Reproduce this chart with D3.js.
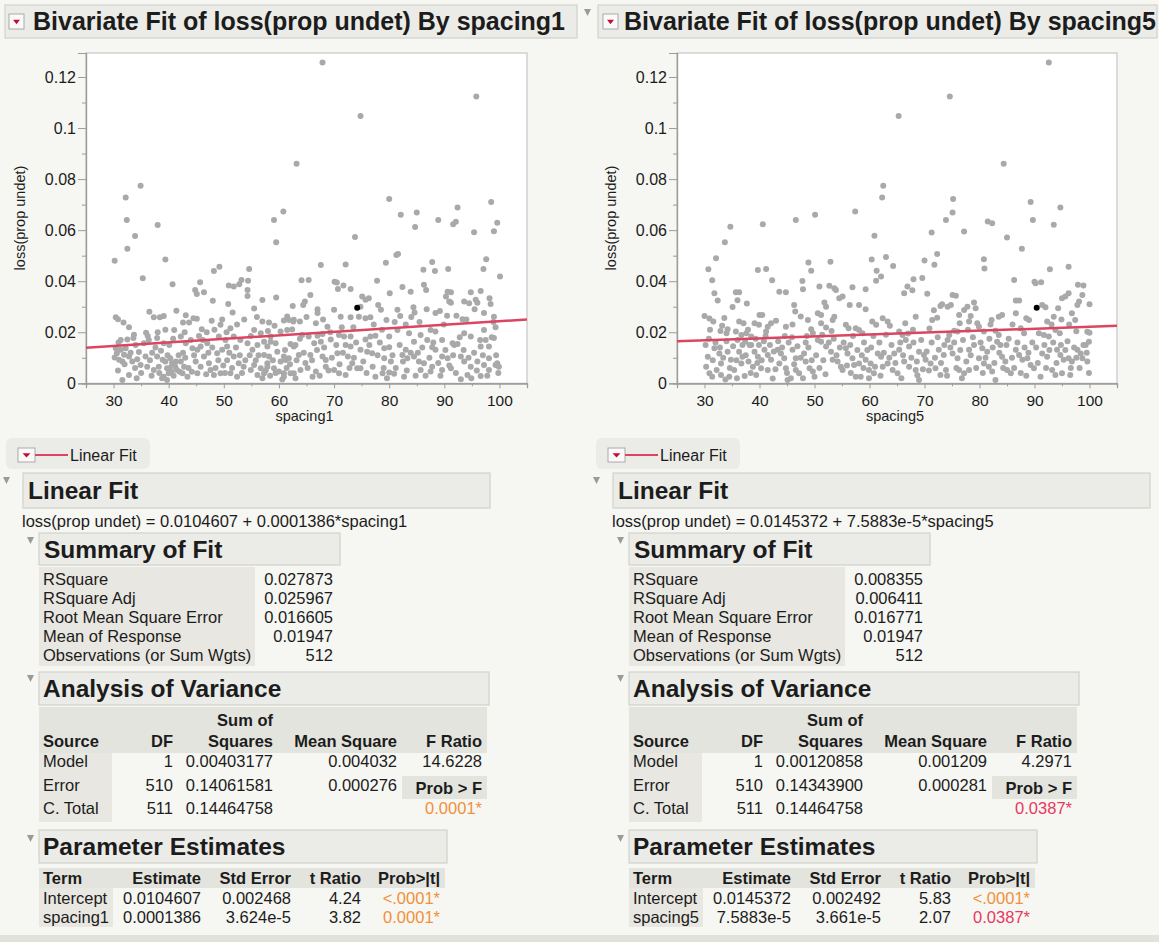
<!DOCTYPE html>
<html>
<head>
<meta charset="utf-8">
<script src="https://cdn.jsdelivr.net/npm/d3@7"></script>
<style>
  body { margin: 0; background: #f6f6f2; }
  svg text { font-family: "Liberation Sans", Arial, Helvetica, sans-serif; fill: #1c1c1c; }
</style>
</head>
<body>
<svg id="chart" width="1159" height="942"></svg>
<script>
// ---------- data ----------
const xTicks = [30, 40, 50, 60, 70, 80, 90, 100];
const xMinorTicks = [25, 35, 45, 55, 65, 75, 85, 95, 105];
const yTicks = [0, 0.02, 0.04, 0.06, 0.08, 0.1, 0.12];
const yTickLabels = ["0", "0.02", "0.04", "0.06", "0.08", "0.1", "0.12"];
const yMinorTicks = [0.01, 0.03, 0.05, 0.07, 0.09, 0.11];

// loss(prop undet) against spacing1
const spacing1Points = [
  [32.2,0.0728],[34.9,0.0774],[32.4,0.0640],[33.9,0.0577],[38.0,0.0620],[63.2,0.0860],[59.1,0.0640],[60.8,0.0673],
  [67.9,0.1257],[95.8,0.1124],[74.8,0.1047],[80.0,0.0722],[82.1,0.0660],[85.0,0.0669],[84.7,0.0612],[88.9,0.0640],
  [92.4,0.0689],[91.6,0.0623],[92.1,0.0633],[98.5,0.0710],[99.6,0.0629],[95.4,0.0592],[99.0,0.0596],[73.8,0.0573],
  [30.2,0.0480],[32.5,0.0527],[35.3,0.0412],[39.4,0.0485],[40.7,0.0388],[59.5,0.0553],[48.2,0.0440],[49.2,0.0457],
  [54.6,0.0448],[54.4,0.0402],[54.3,0.0366],[54.3,0.0342],[45.7,0.0396],[46.4,0.0357],[44.8,0.0366],[45.1,0.0350],
  [50.9,0.0383],[51.8,0.0379],[52.8,0.0388],[53.2,0.0405],[50.8,0.0311],[48.0,0.0323],[51.6,0.0277],[55.5,0.0293],
  [59.5,0.0336],[62.5,0.0303],[36.5,0.0280],[37.3,0.0259],[38.4,0.0259],[39.1,0.0264],[30.4,0.0259],[30.8,0.0251],
  [31.8,0.0238],[32.8,0.0220],[41.4,0.0284],[43.1,0.0267],[42.6,0.0238],[43.7,0.0238],[44.5,0.0255],[45.1,0.0253],
  [46.0,0.0212],[35.9,0.0198],
  [33.7,0.0190],[33.6,0.0177],[31.3,0.0170],[30.4,0.0137],[31.3,0.0131],[32.2,0.0137],[32.8,0.0105],[30.2,0.0101],
  [31.0,0.0092],[31.6,0.0085],[33.4,0.0085],[34.3,0.0094],[34.9,0.0072],[35.5,0.0157],[36.4,0.0170],[37.9,0.0177],
  [39.1,0.0157],[37.0,0.0120],[37.9,0.0105],[36.1,0.0065],[37.3,0.0052],[38.2,0.0065],[39.4,0.0085],[39.7,0.0059],
  [40.0,0.0039],[40.3,0.0098],[40.6,0.0079],[41.2,0.0065],[41.5,0.0052],[42.2,0.0085],[42.8,0.0065],[42.5,0.0039],
  [43.4,0.0026],[39.1,0.0026],[39.7,0.0013],[31.6,0.0013],[32.8,0.0033],[41.0,0.0209],[42.2,0.0183],[43.1,0.0157],
  [44.0,0.0170],[44.3,0.0137],[45.2,0.0131],[45.8,0.0144],[47.0,0.0157],[44.9,0.0085],[45.8,0.0065],[45.2,0.0039],
  [46.4,0.0105],[47.3,0.0079],[47.6,0.0052],[48.2,0.0033],[49.4,0.0039],[48.8,0.0118],[49.7,0.0131],[50.6,0.0144],
  [49.1,0.0183],[50.3,0.0170],[49.4,0.0229],[51.2,0.0216],[51.8,0.0183],[53.0,0.0170],[51.8,0.0105],[52.7,0.0079],
  [53.6,0.0065],[51.2,0.0039],[52.4,0.0026],[54.3,0.0157],[55.2,0.0131],[55.5,0.0209],[56.7,0.0196],[54.9,0.0052],
  [56.1,0.0033],[57.3,0.0039],[57.9,0.0079],[59.1,0.0059],[60.3,0.0085],[57.9,0.0144],[59.7,0.0124],[60.9,0.0105],
  [58.5,0.0183],[60.3,0.0203],[61.5,0.0262],[62.7,0.0249],[60.9,0.0026],[62.1,0.0039],[62.7,0.0144],[63.6,0.0111],
  [81.3,0.0503],[81.6,0.0507],[79.4,0.0472],[67.6,0.0463],[72.1,0.0465],[87.8,0.0475],[97.6,0.0486],[86.2,0.0445],
  [88.3,0.0440],[90.7,0.0448],[97.1,0.0448],[100.1,0.0418],[64.1,0.0404],[65.4,0.0405],[70.1,0.0398],[70.5,0.0395],
  [77.8,0.0402],[71.7,0.0383],[73.0,0.0369],[70.7,0.0369],[86.3,0.0386],[82.4,0.0377],[83.9,0.0359],[80.1,0.0353],
  [86.7,0.0366],[90.6,0.0359],[91.2,0.0357],[94.8,0.0357],[96.6,0.0362],[98.2,0.0333],[90.3,0.0340],[90.9,0.0320],
  [91.2,0.0316],[93.6,0.0320],[94.5,0.0314],[95.7,0.0327],[96.0,0.0316],[98.4,0.0311],[57.0,0.0326],[64.7,0.0320],
  [64.4,0.0307],[65.7,0.0346],[67.0,0.0290],[67.0,0.0275],[70.0,0.0288],[66.7,0.0235],[75.1,0.0340],[75.7,0.0327],
  [76.3,0.0333],[74.8,0.0300],[75.7,0.0255],[76.6,0.0259],[74.5,0.0261],[78.0,0.0307],[78.5,0.0288],[81.5,0.0288],
  [82.0,0.0264],[79.5,0.0248],[84.4,0.0298],[84.6,0.0277],[86.8,0.0290],[88.4,0.0275],[89.2,0.0283],[92.2,0.0265],
  [93.3,0.0251],[97.2,0.0275],[99.0,0.0261],[61.8,0.0248],[62.6,0.0242],[60.9,0.0246],[57.0,0.0242],[58.2,0.0238],
  [63.8,0.0242],[71.2,0.0261],[73.0,0.0259],[68.8,0.0222],[61.5,0.0209],[62.4,0.0211],[64.2,0.0189],[65.4,0.0183],
  [67.0,0.0186],[67.9,0.0193],[70.9,0.0189],[71.8,0.0183],[73.0,0.0183],[75.7,0.0172],[76.6,0.0183],[77.5,0.0186],
  [80.0,0.0183],[81.5,0.0209],[83.6,0.0196],[85.7,0.0189],[87.5,0.0209],[88.4,0.0203],[89.6,0.0170],[91.5,0.0157],
  [93.6,0.0196],[94.8,0.0183],[97.2,0.0209],[99.3,0.0220],[97.5,0.0170],[99.0,0.0177],[56.1,0.0150],[57.3,0.0163],
  [58.5,0.0163],[59.4,0.0157],[62.1,0.0154],[63.0,0.0150],[66.4,0.0157],[67.6,0.0163],[69.4,0.0172],[72.1,0.0150],
  [73.0,0.0144],[74.8,0.0131],[79.1,0.0137],[80.0,0.0141],[83.0,0.0131],[84.5,0.0163],[86.9,0.0170],[87.8,0.0141],
  [88.4,0.0131],[91.8,0.0150],[92.4,0.0154],[96.6,0.0144],[98.1,0.0144],[57.3,0.0111],[58.2,0.0105],[61.2,0.0091],
  [61.8,0.0098],[64.5,0.0120],[65.7,0.0111],[67.9,0.0105],[68.5,0.0091],[70.6,0.0118],[72.5,0.0105],[73.3,0.0079],
  [74.8,0.0059],[76.0,0.0124],[76.9,0.0118],[79.1,0.0098],[80.3,0.0085],[82.4,0.0111],[83.3,0.0098],[84.5,0.0105],
  [85.4,0.0085],[86.3,0.0079],[87.8,0.0065],[89.6,0.0105],[90.6,0.0098],[93.0,0.0105],[93.6,0.0085],[94.8,0.0065],
  [96.0,0.0085],[97.2,0.0072],[98.1,0.0098],[99.6,0.0079],[99.9,0.0065],[55.5,0.0072],[56.7,0.0059],[57.9,0.0065],
  [60.0,0.0046],[60.9,0.0039],[62.7,0.0039],[63.9,0.0052],[66.1,0.0026],[66.7,0.0046],[68.5,0.0065],[70.0,0.0052],
  [70.9,0.0039],[72.1,0.0033],[74.2,0.0059],[77.5,0.0026],[78.8,0.0039],[80.0,0.0042],[80.9,0.0037],[82.7,0.0026],
  [85.7,0.0052],[87.5,0.0046],[89.6,0.0052],[91.2,0.0059],[93.0,0.0016],[94.2,0.0033],[96.6,0.0029],[98.1,0.0052],
  [99.3,0.0072],
  [30.6,0.0118],[31.9,0.0112],[33.1,0.0120],[34.0,0.0150],[34.6,0.0123],[30.9,0.0160],[32.5,0.0172],[33.9,0.0060],
  [35.0,0.0040],[34.2,0.0020],[30.8,0.0050],[32.0,0.0075],[35.8,0.0105],[36.6,0.0090],[37.6,0.0140],[38.6,0.0128],
  [38.9,0.0092],[36.9,0.0030],[38.3,0.0040],[38.8,0.0020],[36.2,0.0185],[38.0,0.0200],[39.4,0.0210],[39.8,0.0110],
  [40.2,0.0060],[40.5,0.0045],[40.9,0.0030],[41.3,0.0085],[41.8,0.0110],[42.0,0.0045],[42.6,0.0120],[43.0,0.0100],
  [43.6,0.0060],[44.2,0.0045],[44.6,0.0110],[40.1,0.0150],[40.8,0.0175],[42.9,0.0200],[45.5,0.0185],[46.2,0.0170],
  [46.8,0.0035],[47.2,0.0120],[47.9,0.0140],[48.5,0.0060],[49.0,0.0090],[49.9,0.0070],[46.9,0.0200],[48.3,0.0210],
  [49.7,0.0250],[47.8,0.0245],[50.2,0.0040],[50.6,0.0090],[51.0,0.0120],[51.5,0.0060],[52.2,0.0140],[52.9,0.0110],
  [53.3,0.0040],[53.9,0.0090],[54.7,0.0110],[50.5,0.0200],[52.4,0.0230],[53.7,0.0250],[54.9,0.0185],[55.8,0.0090],
  [56.3,0.0110],[57.0,0.0020],[57.6,0.0050],[58.4,0.0030],[58.9,0.0090],[59.4,0.0040],[56.0,0.0260],[58.0,0.0205],
  [59.2,0.0225],[60.6,0.0015],[61.4,0.0060],[62.0,0.0075],[63.2,0.0090],[63.8,0.0175],[64.8,0.0080],[61.1,0.0130],
  [63.0,0.0020],[65.2,0.0060],[66.0,0.0090],[66.9,0.0130],[67.4,0.0030],[68.2,0.0140],[69.0,0.0050],[69.6,0.0100],
  [65.0,0.0260],[68.0,0.0250],[69.3,0.0200],[70.4,0.0150],[71.0,0.0075],[71.6,0.0120],[72.8,0.0060],[73.6,0.0100],
  [74.0,0.0160],[73.5,0.0220],[71.4,0.0220],[75.3,0.0085],[75.9,0.0040],[76.4,0.0150],[77.0,0.0065],[77.9,0.0110],
  [78.3,0.0160],[79.0,0.0060],[79.6,0.0020],[77.2,0.0230],[78.7,0.0210],[80.6,0.0110],[81.2,0.0060],[81.9,0.0150],
  [82.5,0.0085],[83.2,0.0050],[83.9,0.0120],[84.8,0.0030],[81.0,0.0240],[83.0,0.0230],[84.0,0.0260],[85.2,0.0120],
  [86.0,0.0140],[86.6,0.0030],[87.3,0.0100],[88.0,0.0160],[88.9,0.0080],[89.3,0.0030],[85.5,0.0240],[89.9,0.0230],
  [90.2,0.0130],[90.9,0.0070],[91.6,0.0110],[92.1,0.0040],[92.8,0.0180],[93.5,0.0130],[94.4,0.0100],[94.9,0.0020],
  [90.5,0.0265],[94.0,0.0250],[95.4,0.0120],[95.9,0.0050],[96.5,0.0170],[97.0,0.0110],[97.8,0.0030],[98.6,0.0180],
  [99.4,0.0110],[99.8,0.0040],[95.5,0.0290],[98.9,0.0240]
];

// loss(prop undet) against spacing5
const spacing5Points = [
  [92.6,0.1257],[74.6,0.1124],[65.3,0.1047],[84.4,0.0860],[62.5,0.0774],[62.3,0.0728],[75.2,0.0722],[75.1,0.0669],
  [73.9,0.0640],[89.3,0.0710],[89.7,0.0640],[94.7,0.0689],[93.5,0.0621],[81.5,0.0634],[82.3,0.0627],[77.2,0.0595],
  [71.3,0.0591],[85.0,0.0571],[87.7,0.0527],[57.4,0.0673],[50.1,0.0660],[46.6,0.0640],[40.6,0.0623],[34.7,0.0613],
  [33.7,0.0553],[32.1,0.0490],[30.7,0.0447],[31.4,0.0404],[39.7,0.0444],[41.2,0.0448],[42.3,0.0404],[47.8,0.0401],
  [48.9,0.0473],[49.4,0.0441],[52.9,0.0476],[60.4,0.0485],[60.9,0.0578],[61.3,0.0441],[62.1,0.0418],[61.2,0.0402],
  [63.0,0.0495],[64.3,0.0460],[70.0,0.0481],[72.3,0.0507],[71.8,0.0464],[69.6,0.0413],[68.0,0.0408],[80.8,0.0486],
  [80.9,0.0450],[86.3,0.0405],[90.0,0.0398],[91.2,0.0396],[92.8,0.0447],[96.2,0.0457],[97.9,0.0386],[98.9,0.0383],
  [30.0,0.0264],[30.9,0.0254],[31.6,0.0242],[31.8,0.0353],[32.4,0.0324],[33.6,0.0256],[35.7,0.0357],[36.3,0.0357],
  [35.1,0.0299],[36.0,0.0325],[37.7,0.0313],[34.2,0.0212],[34.0,0.0196],[35.7,0.0203],[36.7,0.0189],[37.6,0.0196],
  [38.5,0.0183],[39.1,0.0235],[39.9,0.0229],[40.0,0.0268],[40.5,0.0268],[41.5,0.0222],[41.2,0.0203],[43.6,0.0359],
  [44.8,0.0357],[42.1,0.0235],[44.8,0.0222],[46.3,0.0307],[46.5,0.0281],[47.9,0.0368],[47.5,0.0262],[48.8,0.0248],
  [49.4,0.0212],[49.7,0.0196],[50.6,0.0274],[51.2,0.0268],[50.9,0.0379],[51.2,0.0235],[52.1,0.0219],[51.8,0.0317],
  [52.1,0.0300],[52.7,0.0382],[53.6,0.0372],[53.9,0.0366],[53.3,0.0248],[53.6,0.0261],[54.5,0.0333],[55.1,0.0340],
  [55.7,0.0229],[56.2,0.0216],[56.9,0.0376],[56.4,0.0307],[58.1,0.0307],[57.5,0.0216],[58.1,0.0209],[58.7,0.0196],
  [59.3,0.0368],[59.3,0.0290],[60.5,0.0242],[61.2,0.0229],[62.4,0.0255],[63.3,0.0242],[63.7,0.0225],[65.4,0.0203],
  [66.0,0.0189],[66.5,0.0235],[66.3,0.0353],[66.9,0.0379],[67.8,0.0365],[68.4,0.0261],[70.5,0.0351],[71.7,0.0286],
  [71.4,0.0248],[72.3,0.0257],[72.9,0.0303],[73.2,0.0310],[74.2,0.0300],[74.8,0.0307],[75.1,0.0346],[75.7,0.0343],
  [74.2,0.0170],[74.5,0.0189],[75.4,0.0206],[76.0,0.0203],[76.4,0.0235],[76.3,0.0268],[77.2,0.0287],[77.8,0.0300],
  [78.1,0.0242],[78.4,0.0264],[79.0,0.0317],[79.3,0.0294],[79.6,0.0235],[79.9,0.0222],[80.8,0.0203],[82.2,0.0248],
  [83.5,0.0261],[84.1,0.0268],[82.9,0.0206],[83.5,0.0189],[86.6,0.0324],[87.2,0.0324],[86.6,0.0274],[87.5,0.0216],
  [88.1,0.0196],[88.5,0.0255],[89.0,0.0248],[90.2,0.0392],[91.4,0.0307],[92.0,0.0298],[92.3,0.0242],[93.5,0.0261],
  [90.8,0.0196],[91.7,0.0189],[92.6,0.0183],[93.8,0.0209],[94.6,0.0196],[94.3,0.0294],[95.0,0.0333],[95.6,0.0340],
  [96.2,0.0353],[96.8,0.0274],[97.4,0.0248],[97.8,0.0307],[98.1,0.0320],[98.7,0.0346],[100.0,0.0310],[99.6,0.0202],
  [100.0,0.0198],[97.6,0.0204],[36.3,0.0242],[37.1,0.0235],[37.4,0.0163],[38.2,0.0150],
  [30.3,0.0065],[30.9,0.0039],[31.4,0.0026],[30.6,0.0104],[31.8,0.0137],[32.7,0.0117],[33.0,0.0078],[32.2,0.0052],
  [33.0,0.0033],[34.2,0.0124],[34.8,0.0092],[34.5,0.0026],[35.4,0.0052],[36.3,0.0124],[36.9,0.0104],[36.7,0.0078],
  [37.3,0.0029],[38.5,0.0150],[39.1,0.0124],[39.7,0.0104],[38.8,0.0065],[39.4,0.0033],[40.9,0.0131],[41.5,0.0111],
  [42.1,0.0092],[42.4,0.0019],[40.3,0.0059],[41.5,0.0052],[43.3,0.0131],[43.9,0.0117],[44.5,0.0098],[43.6,0.0078],
  [44.8,0.0059],[45.1,0.0013],[45.7,0.0020],[46.0,0.0131],[46.6,0.0098],[46.6,0.0052],[47.2,0.0039],[48.1,0.0117],
  [48.4,0.0085],[49.1,0.0059],[49.7,0.0046],[50.0,0.0026],[50.6,0.0170],[51.2,0.0163],[52.1,0.0144],[53.0,0.0124],
  [53.3,0.0092],[54.2,0.0085],[54.8,0.0065],[55.1,0.0052],[55.7,0.0137],[56.0,0.0117],[56.9,0.0098],[57.2,0.0072],
  [58.1,0.0078],[57.5,0.0026],[58.4,0.0026],[59.3,0.0092],[60.2,0.0078],[59.9,0.0052],[60.8,0.0039],[59.9,0.0020],
  [61.5,0.0117],[62.1,0.0104],[62.4,0.0065],[63.3,0.0078],[64.2,0.0052],[65.1,0.0039],[64.5,0.0117],[65.4,0.0131],
  [66.6,0.0170],[67.2,0.0144],[66.3,0.0085],[67.2,0.0065],[68.4,0.0052],[68.7,0.0032],[69.0,0.0013],[69.0,0.0124],
  [69.9,0.0111],[70.2,0.0092],[71.1,0.0078],[72.0,0.0059],[72.6,0.0131],[73.5,0.0111],[72.9,0.0033],[73.9,0.0052],
  [75.1,0.0117],[76.0,0.0098],[76.3,0.0052],[77.2,0.0039],[78.1,0.0052],[78.1,0.0131],[79.0,0.0150],[79.9,0.0098],
  [80.8,0.0078],[80.5,0.0137],[81.4,0.0124],[81.7,0.0065],[82.3,0.0046],[82.9,0.0013],[83.2,0.0163],[83.8,0.0150],
  [84.1,0.0104],[84.7,0.0085],[85.0,0.0052],[85.7,0.0039],[86.6,0.0131],[87.2,0.0111],[87.8,0.0092],[88.7,0.0098],
  [89.3,0.0072],[89.9,0.0059],[91.1,0.0026],[91.4,0.0117],[92.3,0.0104],[93.2,0.0052],[93.8,0.0033],[94.1,0.0131],
  [94.7,0.0111],[95.3,0.0092],[96.2,0.0098],[96.8,0.0085],[95.0,0.0039],[96.5,0.0033],[97.8,0.0131],[98.4,0.0117],
  [98.7,0.0098],[99.6,0.0085],[99.3,0.0150],[99.9,0.0163],
  [30.2,0.0150],[30.8,0.0175],[31.5,0.0090],[32.0,0.0160],[32.8,0.0140],[33.4,0.0100],[34.0,0.0165],[34.6,0.0060],
  [33.8,0.0015],[31.0,0.0210],[32.9,0.0205],[33.2,0.0225],[35.2,0.0145],[35.8,0.0090],[36.0,0.0170],[36.9,0.0150],
  [37.5,0.0110],[38.0,0.0085],[38.4,0.0040],[39.3,0.0175],[39.9,0.0150],[37.9,0.0210],[39.6,0.0080],[35.9,0.0020],
  [40.4,0.0090],[40.8,0.0165],[41.1,0.0185],[41.9,0.0150],[42.6,0.0125],[42.9,0.0055],[43.4,0.0165],[44.1,0.0140],
  [44.6,0.0185],[43.0,0.0245],[45.0,0.0040],[45.3,0.0160],[45.9,0.0180],[46.3,0.0075],[46.9,0.0145],[47.5,0.0100],
  [47.9,0.0020],[48.4,0.0160],[48.9,0.0140],[49.5,0.0090],[46.0,0.0230],[48.6,0.0185],[50.3,0.0110],[50.9,0.0060],
  [51.6,0.0090],[52.0,0.0035],[52.6,0.0160],[53.5,0.0175],[54.0,0.0110],[54.6,0.0140],[51.4,0.0190],[53.1,0.0205],
  [55.3,0.0160],[55.9,0.0070],[56.5,0.0150],[57.0,0.0185],[57.8,0.0130],[58.6,0.0110],[59.0,0.0160],[59.6,0.0130],
  [56.6,0.0040],[58.9,0.0060],[60.3,0.0140],[60.7,0.0185],[61.0,0.0065],[61.8,0.0160],[62.6,0.0120],[63.0,0.0190],
  [63.6,0.0100],[64.0,0.0150],[64.7,0.0080],[62.0,0.0030],[65.6,0.0160],[66.1,0.0110],[67.0,0.0195],[67.6,0.0100],
  [68.0,0.0160],[68.6,0.0085],[69.4,0.0170],[69.7,0.0055],[65.8,0.0020],[67.9,0.0210],[70.4,0.0125],[70.8,0.0050],
  [71.3,0.0160],[71.9,0.0100],[72.4,0.0180],[73.0,0.0080],[73.6,0.0150],[74.1,0.0030],[74.7,0.0140],[70.9,0.0215],
  [75.4,0.0160],[75.8,0.0060],[76.5,0.0130],[77.0,0.0170],[77.6,0.0085],[78.4,0.0110],[78.8,0.0180],[79.4,0.0060],
  [76.8,0.0020],[77.9,0.0210],[80.2,0.0160],[80.6,0.0040],[81.1,0.0100],[81.8,0.0175],[82.4,0.0140],[82.7,0.0080],
  [83.6,0.0120],[84.3,0.0060],[84.9,0.0150],[82.0,0.0230],[85.3,0.0175],[85.9,0.0100],[86.3,0.0060],[86.9,0.0160],
  [87.5,0.0040],[88.2,0.0140],[88.9,0.0120],[89.6,0.0160],[88.5,0.0030],[86.0,0.0230],[90.3,0.0140],[90.6,0.0080],
  [91.8,0.0150],[92.7,0.0130],[93.4,0.0160],[94.0,0.0080],[94.8,0.0150],[92.1,0.0060],[93.1,0.0230],[94.9,0.0250],
  [95.6,0.0130],[96.0,0.0165],[96.6,0.0060],[97.2,0.0140],[97.6,0.0100],[98.2,0.0060],[98.9,0.0150],[99.5,0.0120],
  [99.9,0.0040],[96.3,0.0230]
];

// the selected row, shown in black
const selected1 = [74.2, 0.0296];
const selected5 = [90.4, 0.0296];

// fitted line coefficients [intercept, slope]
const fit1 = [0.0104607, 0.0001386];
const fit5 = [0.0145372, 7.5883e-5];

const summaryLabels = ["RSquare", "RSquare Adj", "Root Mean Square Error", "Mean of Response", "Observations (or Sum Wgts)"];
const summary1 = ["0.027873", "0.025967", "0.016605", "0.01947", "512"];
const summary5 = ["0.008355", "0.006411", "0.016771", "0.01947", "512"];

const anovaSources = ["Model", "Error", "C. Total"];
const anovaDF = ["1", "510", "511"];
const anovaSS1 = ["0.00403177", "0.14061581", "0.14464758"];
const anovaMS1 = ["0.004032", "0.000276", ""];
const anovaSS5 = ["0.00120858", "0.14343900", "0.14464758"];
const anovaMS5 = ["0.001209", "0.000281", ""];
const fRatio1 = "14.6228", probF1 = "0.0001*";
const fRatio5 = "4.2971",  probF5 = "0.0387*";

const paramTerms1 = ["Intercept", "spacing1"];
const paramTerms5 = ["Intercept", "spacing5"];
const paramEst1 = ["0.0104607", "0.0001386"];
const paramSE1 = ["0.002468", "3.624e-5"];
const paramT1 = ["4.24", "3.82"];
const paramP1 = ["<.0001*", "0.0001*"];
const paramEst5 = ["0.0145372", "7.5883e-5"];
const paramSE5 = ["0.002492", "3.661e-5"];
const paramT5 = ["5.83", "2.07"];
const paramP5 = ["<.0001*", "0.0387*"];

// ---------- styling ----------
const C = {
  page: "#f6f6f2", bar: "#ebebe7", barStroke: "#d2d2cc", cell: "#e4e4de", labelCol: "#e8e7e1",
  point: "#a9a9a9", fit: "#dc4560", orange: "#f0913a", pink: "#e6395f", axis: "#9c9c9c", frame: "#c6c6c6"
};
const FONT_BODY = 16.5, FONT_HEAD = 24.5;

const svg = d3.select("#chart");
svg.append("rect").attr("width", 1159).attr("height", 942).attr("fill", C.page);

function txt(g, x, y, s, o = {}) {
  const t = g.append("text").attr("x", x).attr("y", y).text(s)
    .style("font-size", (o.size || FONT_BODY) + "px")
    .attr("text-anchor", o.anchor || "start");
  if (o.bold) t.style("font-weight", "bold");
  if (o.color) t.style("fill", o.color);
  return t;
}
function redMenu(g, x, y, w, h) {
  g.append("rect").attr("x", x).attr("y", y).attr("width", w).attr("height", h)
    .attr("fill", "#fafafa").attr("stroke", "#aaaaaa").attr("stroke-width", 1);
  g.append("path")
    .attr("d", `M${x + w * 0.27},${y + h * 0.38}L${x + w * 0.73},${y + h * 0.38}L${x + w / 2},${y + h * 0.68}Z`)
    .attr("fill", "#c40f2c");
}
function disclosure(g, x, y) {
  g.append("path").attr("d", `M${x},${y}L${x + 7},${y}L${x + 3.5},${y + 7}Z`).attr("fill", "#9a9a9a");
}
function bar(g, x0, x1, y0, y1) {
  g.append("rect").attr("x", x0).attr("y", y0).attr("width", x1 - x0).attr("height", y1 - y0)
    .attr("fill", C.bar).attr("stroke", C.barStroke).attr("stroke-width", 1.2);
}
function cell(g, x0, x1, y0, y1, fill) {
  g.append("rect").attr("x", x0).attr("y", y0).attr("width", x1 - x0).attr("height", y1 - y0).attr("fill", fill);
}

// ---------- one report panel ----------
function drawPanel(p) {
  const g = svg.append("g");
  const dx = p.dx;

  // title bar
  if (p.outerTri) disclosure(g, p.outerTri, 9);
  bar(g, p.titleBar[0], p.titleBar[1], 5, 38);
  redMenu(g, p.menuX, 14, 15, 15);
  txt(g, p.titleX, 30, p.title, { size: 25, bold: true });

  // scatter plot
  const x = d3.scaleLinear().domain([25, 105]).range([p.plotL, p.plotR]);
  const y = d3.scaleLinear().domain([0, 0.1294]).range([383.3, 53]);
  g.append("rect").attr("x", p.plotL).attr("y", 53).attr("width", p.plotR - p.plotL).attr("height", 383.3 - 53)
    .attr("fill", "#ffffff").attr("stroke", C.frame).attr("stroke-width", 1.2);

  const styleAxis = a => {
    a.selectAll("path.domain").attr("stroke", C.axis).attr("stroke-width", 1.2);
    a.selectAll("line").attr("stroke", C.axis).attr("stroke-width", 1);
  };
  const yMinor = g.append("g").attr("transform", `translate(${p.plotL},0)`)
    .call(d3.axisLeft(y).tickValues(yMinorTicks).tickSize(4).tickFormat(""));
  styleAxis(yMinor);
  const yAx = g.append("g").attr("transform", `translate(${p.plotL},0)`)
    .call(d3.axisLeft(y).tickValues(yTicks).tickSize(8).tickPadding(2).tickFormat((d, i) => yTickLabels[i]));
  styleAxis(yAx);
  yAx.selectAll("text").style("font-size", "16px").style("fill", "#1c1c1c")
    .style("font-family", '"Liberation Sans", Arial, sans-serif');

  const xMinor = g.append("g").attr("transform", "translate(0,383.3)")
    .call(d3.axisBottom(x).tickValues(xMinorTicks).tickSize(3).tickFormat(""));
  styleAxis(xMinor);
  const xAx = g.append("g").attr("transform", "translate(0,383.3)")
    .call(d3.axisBottom(x).tickValues(xTicks).tickSize(5).tickPadding(7));
  styleAxis(xAx);
  xAx.selectAll("text").style("font-size", "15.5px").style("fill", "#1c1c1c")
    .style("font-family", '"Liberation Sans", Arial, sans-serif');

  txt(g, (p.plotL + p.plotR) / 2 - 2, 421, p.xLabel, { size: 14.5, anchor: "middle" });
  txt(g, 0, 0, "loss(prop undet)", { size: 14.5, anchor: "middle" })
    .attr("transform", `translate(${p.plotL - 61},218) rotate(-90)`);

  g.append("g").selectAll("circle").data(p.points).join("circle")
    .attr("cx", d => x(d[0])).attr("cy", d => y(d[1])).attr("r", 3).attr("fill", C.point);
  g.append("circle").attr("cx", x(p.selected[0])).attr("cy", y(p.selected[1])).attr("r", 3).attr("fill", "#000");

  const line = d3.line().x(d => x(d)).y(d => y(p.fit[0] + p.fit[1] * d));
  g.append("path").datum(x.domain()).attr("d", line)
    .attr("fill", "none").attr("stroke", C.fit).attr("stroke-width", 2.5);

  // legend: Linear Fit
  g.append("rect").attr("x", 6 + dx).attr("y", 438).attr("width", 144).attr("height", 31).attr("rx", 6)
    .attr("fill", "#ebebe7");
  redMenu(g, 18 + dx, 448, 17, 14);
  g.append("line").attr("x1", 35 + dx).attr("x2", 68 + dx).attr("y1", 455).attr("y2", 455)
    .attr("stroke", C.fit).attr("stroke-width", 2);
  txt(g, 70 + dx, 461, "Linear Fit", { size: 16 });

  // Linear Fit section
  disclosure(g, 3 + dx, 477);
  bar(g, 23 + dx, p.fitBarR, 473, 508);
  txt(g, 28 + dx, 499, "Linear Fit", { size: FONT_HEAD, bold: true });
  txt(g, 22 + dx, 527, p.equation, { size: FONT_BODY });

  // Summary of Fit
  disclosure(g, 27 + dx, 537);
  bar(g, 39 + dx, 340 + dx, 533, 565);
  txt(g, 44 + dx, 558, "Summary of Fit", { size: FONT_HEAD, bold: true });
  cell(g, 39 + dx, 255 + dx, 567, 666, C.labelCol);
  summaryLabels.forEach((s, i) => {
    const by = 585 + i * 19.1;
    txt(g, 43 + dx, by, s);
    txt(g, 333 + dx, by, p.summary[i], { anchor: "end" });
  });

  // Analysis of Variance
  disclosure(g, 27 + dx, 675);
  bar(g, 39 + dx, 489 + dx, 672, 705);
  txt(g, 43 + dx, 697, "Analysis of Variance", { size: FONT_HEAD, bold: true });
  cell(g, 39 + dx, 487 + dx, 707, 753, C.cell);
  cell(g, 39 + dx, 112 + dx, 753, 822, C.labelCol);
  txt(g, 273 + dx, 726, "Sum of", { bold: true, anchor: "end" });
  txt(g, 43 + dx, 747, "Source", { bold: true });
  txt(g, 173 + dx, 747, "DF", { bold: true, anchor: "end" });
  txt(g, 273 + dx, 747, "Squares", { bold: true, anchor: "end" });
  txt(g, 397 + dx, 747, "Mean Square", { bold: true, anchor: "end" });
  txt(g, 482 + dx, 747, "F Ratio", { bold: true, anchor: "end" });
  const rowY = [767, 791, 814];
  anovaSources.forEach((s, i) => {
    txt(g, 43 + dx, rowY[i], s);
    txt(g, 173 + dx, rowY[i], anovaDF[i], { anchor: "end" });
    txt(g, 273 + dx, rowY[i], p.ss[i], { anchor: "end" });
    if (p.ms[i]) txt(g, 397 + dx, rowY[i], p.ms[i], { anchor: "end" });
  });
  txt(g, 482 + dx, rowY[0], p.fRatio, { anchor: "end" });
  cell(g, 402 + dx, 487 + dx, 776, 799, C.cell);
  txt(g, 482 + dx, 794, "Prob > F", { bold: true, anchor: "end" });
  txt(g, 482 + dx, rowY[2], p.probF, { anchor: "end", color: p.probFColor });

  // Parameter Estimates
  disclosure(g, 27 + dx, 835);
  bar(g, 39 + dx, 447 + dx, 830, 863);
  txt(g, 43 + dx, 855, "Parameter Estimates", { size: FONT_HEAD, bold: true });
  cell(g, 39 + dx, 445 + dx, 868, 888, C.cell);
  cell(g, 39 + dx, 113 + dx, 888, 927, C.labelCol);
  txt(g, 43 + dx, 884, "Term", { bold: true });
  txt(g, 201 + dx, 884, "Estimate", { bold: true, anchor: "end" });
  txt(g, 291 + dx, 884, "Std Error", { bold: true, anchor: "end" });
  txt(g, 361 + dx, 884, "t Ratio", { bold: true, anchor: "end" });
  txt(g, 440 + dx, 884, "Prob>|t|", { bold: true, anchor: "end" });
  [904, 923].forEach((by, i) => {
    txt(g, 43 + dx, by, p.terms[i]);
    txt(g, 201 + dx, by, p.est[i], { anchor: "end" });
    txt(g, 291 + dx, by, p.se[i], { anchor: "end" });
    txt(g, 361 + dx, by, p.t[i], { anchor: "end" });
    txt(g, 440 + dx, by, p.prob[i], { anchor: "end", color: p.probColors[i] });
  });
}

drawPanel({
  dx: 0, titleBar: [5, 577], menuX: 9, titleX: 33, outerTri: null,
  title: "Bivariate Fit of loss(prop undet) By spacing1",
  plotL: 86, plotR: 527, xLabel: "spacing1",
  points: spacing1Points, selected: selected1, fit: fit1, fitBarR: 490,
  equation: "loss(prop undet) = 0.0104607 + 0.0001386*spacing1",
  summary: summary1, ss: anovaSS1, ms: anovaMS1, fRatio: fRatio1, probF: probF1, probFColor: C.orange,
  terms: paramTerms1, est: paramEst1, se: paramSE1, t: paramT1, prob: paramP1, probColors: [C.orange, C.orange]
});
drawPanel({
  dx: 590, titleBar: [598, 1157], menuX: 603, titleX: 624, outerTri: 584,
  title: "Bivariate Fit of loss(prop undet) By spacing5",
  plotL: 677, plotR: 1117, xLabel: "spacing5",
  points: spacing5Points, selected: selected5, fit: fit5, fitBarR: 1150,
  equation: "loss(prop undet) = 0.0145372 + 7.5883e-5*spacing5",
  summary: summary5, ss: anovaSS5, ms: anovaMS5, fRatio: fRatio5, probF: probF5, probFColor: C.pink,
  terms: paramTerms5, est: paramEst5, se: paramSE5, t: paramT5, prob: paramP5, probColors: [C.orange, C.pink]
});

// bottom edge of the report window
svg.append("rect").attr("x", 0).attr("y", 935).attr("width", 1159).attr("height", 7).attr("fill", "#e2e2dd");
</script>
</body>
</html>
